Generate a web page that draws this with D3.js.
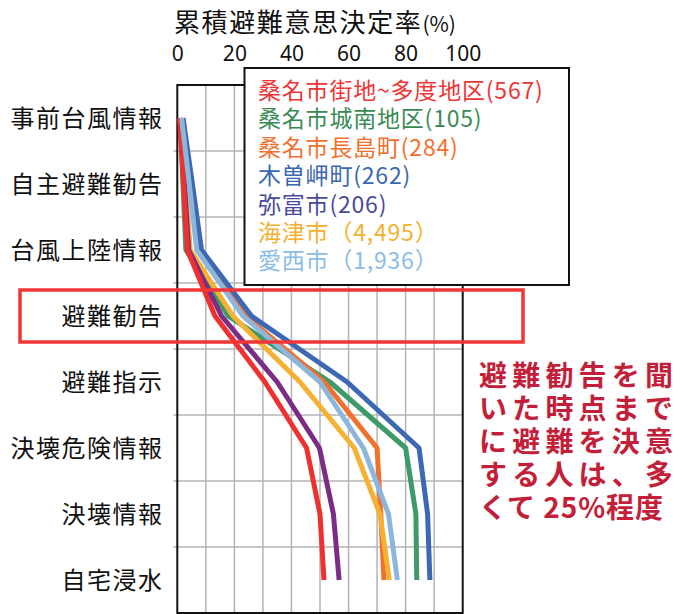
<!DOCTYPE html>
<html>
<head>
<meta charset="utf-8">
<script src="https://cdn.jsdelivr.net/npm/d3@7"></script>
<style>
  html, body { margin: 0; padding: 0; background: #fff; }
  svg { display: block; font-family: "Noto Sans CJK JP", "Noto Sans", sans-serif; }
</style>
</head>
<body>
<svg id="chart" width="691" height="614"></svg>
<script>
const categories = ["事前台風情報", "自主避難勧告", "台風上陸情報", "避難勧告", "避難指示", "決壊危険情報", "決壊情報", "自宅浸水"];
const xTicks = [0, 20, 40, 60, 80, 100];

const seriesNames = ["桑名市街地~多度地区(567)", "桑名市城南地区(105)", "桑名市長島町(284)", "木曽岬町(262)", "弥富市(206)", "海津市（4,495）", "愛西市（1,936）"];
const kuwanaCenter = [0.8, 2.2, 3.5, 13.2, 30.7, 45.3, 50.0, 51.4];
const kuwanaJonan  = [1.0, 2.0, 3.0, 17.8, 53.5, 80.0, 83.6, 83.9];
const kuwanaNagashima = [2.0, 4.5, 7.0, 24.0, 51.5, 70.0, 71.3, 72.4];
const kisosaki     = [2.0, 5.3, 8.5, 26.0, 59.5, 84.7, 87.7, 88.5];
const yatomi       = [1.0, 2.5, 4.0, 15.5, 35.0, 49.8, 54.7, 56.7];
const kaizu        = [1.2, 2.9, 4.5, 19.5, 43.0, 62.0, 71.0, 74.3];
const aisai        = [1.5, 4.2, 6.8, 23.0, 50.0, 65.2, 74.0, 77.1];
const seriesValues = [kuwanaCenter, kuwanaJonan, kuwanaNagashima, kisosaki, yatomi, kaizu, aisai];
const lineColors = ["#ee3030", "#3e9a68", "#f2702e", "#3d68b3", "#7b2d86", "#f6b133", "#8db6dc"];
const textColors = ["#ee3535", "#3b8a55", "#f2702e", "#3a67b1", "#4a4a9a", "#f5b030", "#8abde6"];
const drawOrder = [1, 2, 3, 5, 4, 0, 6];

const annotationLines = ["避難勧告を聞", "いた時点まで", "に避難を決意", "する人は、多", "くて 25%程度"];

const svg = d3.select("#chart");
const plot = { left: 177.3, right: 462.7, top: 85, bottom: 613 };

const x = d3.scaleLinear().domain([0, 100]).range([plot.left, plot.right]);
const yBand = d3.scaleBand().domain(categories).range([plot.top, plot.bottom]);
const y = c => yBand(c) + yBand.bandwidth() / 2;

// vertical grid lines
svg.append("g").selectAll("line")
  .data(d3.range(10, 100, 10))
  .join("line")
  .attr("x1", d => x(d)).attr("x2", d => x(d))
  .attr("y1", plot.top).attr("y2", plot.bottom)
  .attr("stroke", "#b4b4b4").attr("stroke-width", 1.5);

// horizontal row boundaries
svg.append("g").selectAll("line")
  .data(categories.slice(1))
  .join("line")
  .attr("x1", plot.left - 4).attr("x2", plot.right)
  .attr("y1", d => yBand(d)).attr("y2", d => yBand(d))
  .attr("stroke", "#b4b4b4").attr("stroke-width", 1.5);

// plot border
svg.append("rect")
  .attr("x", plot.left).attr("y", plot.top)
  .attr("width", plot.right - plot.left).attr("height", plot.bottom - plot.top)
  .attr("fill", "none").attr("stroke", "#111").attr("stroke-width", 2);

// top axis
const xAxis = d3.axisTop(x).tickValues(xTicks).tickSize(0).tickPadding(0);
const axG = svg.append("g").attr("transform", `translate(0,${plot.top - 24})`).call(xAxis);
axG.select(".domain").remove();
axG.selectAll("text").attr("font-size", 21).attr("fill", "#111")
  .attr("font-family", "'Noto Sans', 'Liberation Sans', sans-serif")
  .attr("dy", 0);

// title
const title = svg.append("text").attr("x", 174).attr("y", 32).attr("fill", "#111");
title.append("tspan").attr("font-size", 26).attr("letter-spacing", 1.6).text("累積避難意思決定率");
title.append("tspan").attr("font-size", 21).text("(%)");

// category labels
const yAxis = d3.axisLeft(yBand).tickSize(0).tickPadding(0);
const yG = svg.append("g").attr("transform", `translate(163.5,0)`).call(yAxis);
yG.select(".domain").remove();
yG.selectAll("text").attr("font-size", 24).attr("fill", "#111").attr("dy", "0.36em")
  .attr("letter-spacing", 1.5)
  .attr("font-family", "'Noto Sans CJK JP', sans-serif");

// lines
const line = d3.line().x(d => x(d.v)).y(d => y(d.c));
svg.append("g").selectAll("path")
  .data(drawOrder)
  .join("path")
  .attr("d", i => line(seriesValues[i].map((v, k) => ({ v, c: categories[k] }))))
  .attr("fill", "none")
  .attr("stroke", i => lineColors[i])
  .attr("stroke-width", 5)
  .attr("stroke-linejoin", "round");

// legend
const legend = svg.append("g");
legend.append("rect")
  .attr("x", 244.5).attr("y", 68).attr("width", 324.5).attr("height", 217)
  .attr("fill", "#fff").attr("stroke", "#111").attr("stroke-width", 2);
legend.selectAll("text")
  .data(seriesNames)
  .join("text")
  .attr("x", 258)
  .attr("y", (d, i) => 99 + i * 28.4)
  .attr("font-size", 23)
  .attr("letter-spacing", 0.8)
  .attr("fill", (d, i) => textColors[i])
  .text(d => d);

// highlight rectangle around 避難勧告
svg.append("rect")
  .attr("x", 20).attr("y", 290)
  .attr("width", 503).attr("height", 52)
  .attr("fill", "none").attr("stroke", "#f03535").attr("stroke-width", 3.5);

// annotation
svg.append("g").selectAll("text")
  .data(annotationLines)
  .join("text")
  .attr("x", 479)
  .attr("y", (d, i) => 386 + i * 33)
  .attr("font-size", 28)
  .attr("font-weight", "bold")
  .attr("textLength", (d, i) => i === annotationLines.length - 1 ? 184 : 194)
  .attr("lengthAdjust", "spacing")
  .attr("fill", "#c41f3a")
  .text(d => d);
</script>
</body>
</html>
